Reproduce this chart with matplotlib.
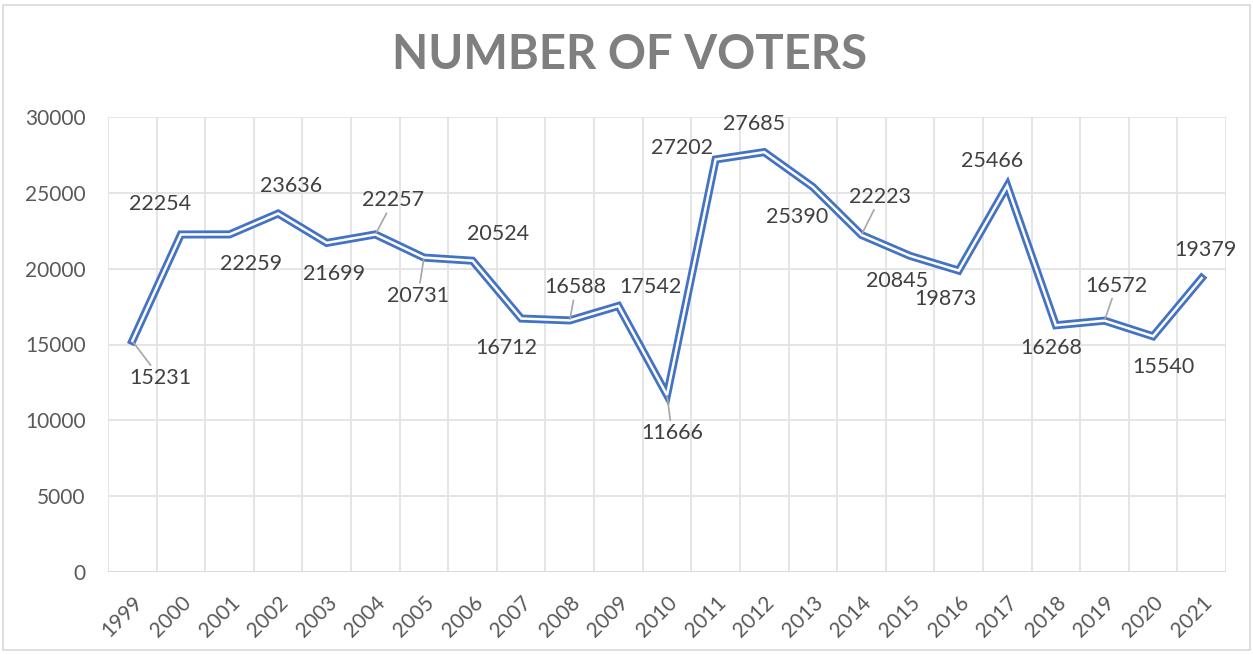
import matplotlib
matplotlib.use('Agg')
import matplotlib.pyplot as plt
from matplotlib.patches import Rectangle

years = [str(y) for y in range(1999, 2022)]
voters = [15231, 22254, 22259, 23636, 21699, 22257, 20731, 20524, 16712, 16588,
          17542, 11666, 27202, 27685, 25390, 22223, 20845, 19873, 25466, 16268,
          16572, 15540, 19379]
y_ticks = [0, 5000, 10000, 15000, 20000, 25000, 30000]

label_offsets = [(28, -37), (-21, 30), (22, -30), (13, 28), (7, -31), (18, 34), (-6, -38),
                 (25, 27), (-15, -29), (6, 33), (32, 19), (5, -38), (-34, 11), (-10, 28),
                 (-16, -30), (19, 38), (-13, -25), (-13, -28), (-15, 25), (-5, -23),
                 (12, 35), (10, -31), (4, 28)]
leaders = {'1999', '2004', '2005', '2008', '2010', '2014', '2019'}

plt.rcParams['font.family'] = ['Lato', 'DejaVu Sans']

fig = plt.figure(figsize=(12.53, 6.55), dpi=100)
ax = fig.add_axes([108 / 1253, 1 - 572 / 655, (1226 - 108) / 1253, (572 - 117) / 655])

# chart area border
fig.patches.append(Rectangle((3 / 1253, 5 / 655), 1 - 6 / 1253, 1 - 10 / 655,
                             transform=fig.transFigure, fill=False,
                             edgecolor='#d9d9d9', linewidth=1.2))

x = list(range(len(years)))
# double (compound) line: wide blue with a white core
ax.plot(x, voters, color='#4472C4', linewidth=5.8, solid_joinstyle='miter', zorder=3)
ax.plot(x, voters, color='white', linewidth=1.8, solid_joinstyle='miter', zorder=4)

for xi, yr, v, (dx, dy) in zip(x, years, voters, label_offsets):
    kw = {}
    if yr in leaders:
        kw['arrowprops'] = dict(arrowstyle='-', color='#a6a6a6', linewidth=1.2,
                                shrinkA=0, shrinkB=1)
    ax.annotate(str(v), (xi, v), xytext=(dx, dy), textcoords='offset pixels',
                ha='center', va='center', fontsize=15.5, color='#404040', zorder=5, **kw)

ax.set_xlim(-0.5, len(years) - 0.5)
ax.set_ylim(0, 30000)
ax.set_yticks(y_ticks)
ax.set_yticklabels([str(t) for t in y_ticks])
ax.set_xticks(x)
ax.set_xticklabels(years, rotation=45, ha='right', rotation_mode='anchor')

# gridlines at category boundaries
for b in range(len(years) + 1):
    ax.axvline(b - 0.5, color='#e3e3e3', linewidth=1.3, zorder=1)
ax.yaxis.grid(True, color='#e3e3e3', linewidth=1.3, zorder=1)
ax.set_axisbelow(True)

for s in ax.spines.values():
    s.set_visible(False)
ax.axhline(0, color='#d9d9d9', linewidth=1.3, zorder=2)

ax.tick_params(axis='y', length=0, pad=16, labelsize=15, labelcolor='#595959')
ax.tick_params(axis='x', length=0, pad=15, labelsize=15, labelcolor='#595959')

fig.text(630 / 1253, 1 - 55 / 655, 'NUMBER OF VOTERS', ha='center', va='center',
         fontsize=34, fontweight='bold', color='#7f7f7f')

fig.savefig('out.png', dpi=100, facecolor='white')
